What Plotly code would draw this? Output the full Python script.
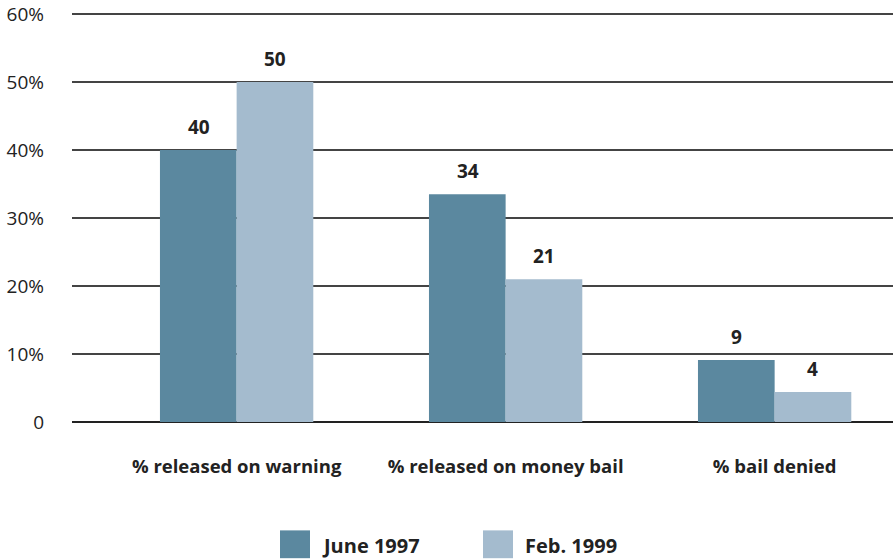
import plotly.graph_objects as go

categories = ["% released on warning", "% released on money bail", "% bail denied"]
june_1997 = [40, 33.5, 9.1]
feb_1999 = [50, 21, 4.4]
series_names = ["June 1997", "Feb. 1999"]
colors = ["#5b889f", "#a4bbce"]
tick_vals = [0, 10, 20, 30, 40, 50, 60]
tick_text = ["0", "10%", "20%", "30%", "40%", "50%", "60%"]

FONT = "'Open Sans', Lato, sans-serif"

fig = go.Figure()
for i, (name, vals, col) in enumerate(zip(series_names, [june_1997, feb_1999], colors)):
    fig.add_trace(go.Bar(
        name=name, x=categories, y=vals,
        marker=dict(color=col, line=dict(width=0)),
        showlegend=False))
    # value labels sit well above each bar
    for cat, v in zip(categories, vals):
        fig.add_annotation(x=cat, y=v, xshift=(-38 if i == 0 else 38), yshift=8,
                           yanchor="bottom", showarrow=False,
                           text="<b>%d</b>" % round(v + 0.001),
                           font=dict(size=19, color="#222222", family=FONT))

# legend squares + labels, drawn by hand so the swatches are large
for i, (name, col) in enumerate(zip(series_names, colors)):
    x0 = (280 - 72) / 821 + i * (203 / 821)
    fig.add_shape(type="rect", xref="paper", yref="paper",
                  x0=x0, x1=x0 + 30 / 821, y0=-0.333, y1=-0.265,
                  fillcolor=col, line=dict(width=0))
    fig.add_annotation(xref="paper", yref="paper", x=x0 + 40 / 821, y=-0.301,
                       xanchor="left", yanchor="middle", showarrow=False,
                       text="<b>" + name + "</b>",
                       font=dict(size=20, color="#222222", family=FONT))

fig.update_layout(
    width=893, height=560,
    margin=dict(l=72, r=0, t=13, b=138, autoexpand=False),
    paper_bgcolor="white", plot_bgcolor="white",
    barmode="group", bargap=0.43, bargroupgap=0,
    font=dict(family=FONT, color="#222222"),
    xaxis=dict(range=[-0.612, 2.44], showgrid=False, showline=False,
               zeroline=False, ticks="", ticklabelstandoff=31, automargin=False,
               tickfont=dict(size=18.5, family=FONT, weight="bold")),
    yaxis=dict(range=[0, 60.15], tickvals=tick_vals, ticktext=tick_text,
               showgrid=True, gridcolor="#444444", gridwidth=1.5,
               zeroline=True, zerolinecolor="#222222", zerolinewidth=1.5,
               showline=False, ticks="", ticklabelstandoff=27, automargin=False,
               tickfont=dict(size=19, family=FONT, color="#222222")),
)

# drop the page's default 8px body margin so the figure fills the window
fig.write_html("out.html", config={"displayModeBar": False},
               post_script="document.body.style.margin='0';")
